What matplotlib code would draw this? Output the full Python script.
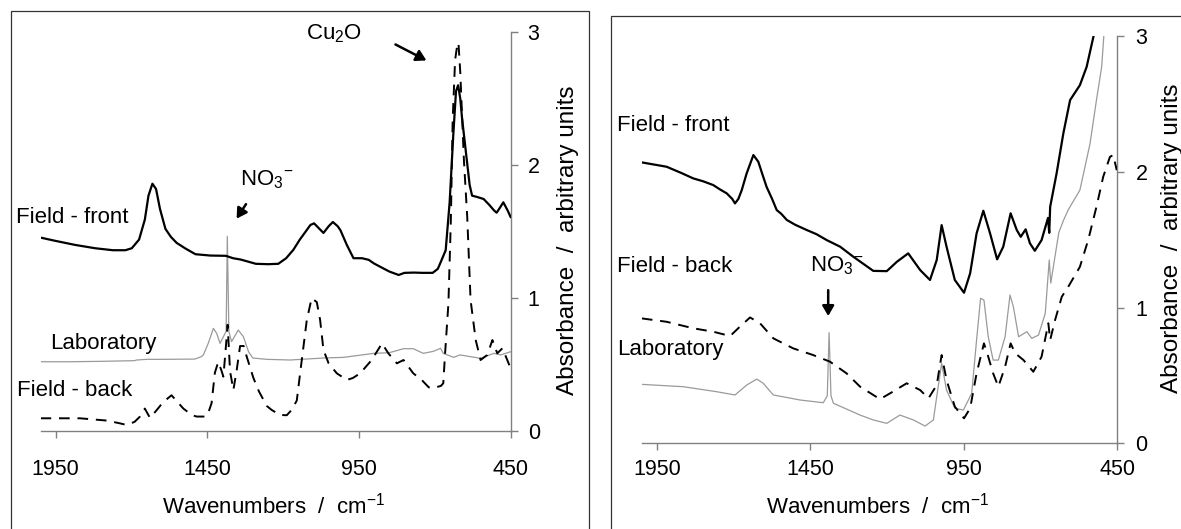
import matplotlib
matplotlib.use("Agg")
import matplotlib.pyplot as plt
from matplotlib.patches import Rectangle, FancyArrowPatch

plt.rcParams['font.family'] = ['Liberation Sans', 'DejaVu Sans']
plt.rcParams['mathtext.fontset'] = 'custom'
plt.rcParams['mathtext.rm'] = 'Liberation Sans'
plt.rcParams['mathtext.it'] = 'Liberation Sans:italic'
plt.rcParams['mathtext.bf'] = 'Liberation Sans:bold'

# ---------------- data: left panel ----------------
left_front_wn = [2000, 1950, 1886, 1820, 1761, 1720, 1699, 1675, 1656, 1644, 1631, 1619, 1606, 1588,
                 1570, 1551, 1520, 1489, 1440, 1389, 1365, 1340, 1290, 1250, 1216, 1190, 1166, 1145,
                 1129, 1110, 1098, 1080, 1067, 1050, 1036, 1020, 1011, 990, 968, 940, 918, 900, 881,
                 850, 819, 800, 769, 740, 707, 690, 682, 664, 651, 639, 630, 623, 616, 610, 595, 585,
                 577, 560, 539, 520, 505, 496, 485, 474, 460, 450]
left_front_val = [1.455, 1.43, 1.40, 1.375, 1.36, 1.36, 1.375, 1.44, 1.59, 1.77, 1.86, 1.82, 1.67, 1.52,
                  1.46, 1.415, 1.37, 1.33, 1.32, 1.318, 1.30, 1.29, 1.258, 1.255, 1.258, 1.30, 1.364, 1.44,
                  1.49, 1.55, 1.562, 1.52, 1.49, 1.54, 1.572, 1.54, 1.51, 1.40, 1.30, 1.30, 1.288, 1.26, 1.237,
                  1.20, 1.174, 1.19, 1.192, 1.19, 1.19, 1.22, 1.262, 1.36, 1.72, 2.225, 2.555, 2.60, 2.50, 2.35,
                  2.05, 1.85, 1.77, 1.76, 1.745, 1.70, 1.66, 1.642, 1.68, 1.72, 1.66, 1.61]

left_back_wn = [2000, 1870, 1782, 1740, 1716, 1690, 1672, 1656, 1639, 1620, 1595, 1568, 1529, 1500, 1485,
                1455, 1445, 1436, 1425, 1414, 1404, 1397, 1390, 1383, 1375, 1364, 1353, 1342, 1330, 1320,
                1298, 1280, 1254, 1238, 1210, 1188, 1172, 1155, 1144, 1122, 1106, 1089, 1078, 1067, 1050,
                1023, 990, 970, 946, 908, 874, 853, 825, 803, 771, 743, 720, 710, 680, 672, 666, 655, 647,
                641, 633, 626, 622, 616, 604, 593, 582, 565, 549, 527, 510, 494, 477, 461, 450]
left_back_val = [0.097, 0.097, 0.08, 0.06, 0.047, 0.07, 0.11, 0.17, 0.10, 0.15, 0.22, 0.27, 0.17, 0.12, 0.11,
                 0.11, 0.15, 0.21, 0.44, 0.52, 0.46, 0.41, 0.60, 0.80, 0.45, 0.31, 0.46, 0.64, 0.64, 0.56,
                 0.40, 0.30, 0.19, 0.16, 0.122, 0.12, 0.16, 0.23, 0.435, 0.835, 1.0, 0.97, 0.835, 0.61, 0.51,
                 0.435, 0.385, 0.40, 0.435, 0.535, 0.66, 0.585, 0.51, 0.535, 0.435, 0.385, 0.33, 0.322, 0.34,
                 0.36, 0.585, 0.961, 1.587, 2.338, 2.79, 2.90, 2.92, 2.70, 2.04, 1.61, 0.986, 0.685, 0.535,
                 0.573, 0.685, 0.585, 0.623, 0.535, 0.473]

left_lab_wn = [2000, 1900, 1800, 1690, 1683, 1650, 1600, 1491, 1470, 1463, 1447, 1430, 1419, 1408, 1397,
               1388, 1384, 1379, 1370, 1348, 1331, 1314, 1300, 1254, 1177, 1067, 1000, 901, 850, 803, 771,
               738, 705, 681, 672, 638, 617, 549, 505, 483, 450]
left_lab_val = [0.522, 0.522, 0.525, 0.53, 0.535, 0.54, 0.54, 0.542, 0.56, 0.573, 0.66, 0.773, 0.735, 0.66,
                0.71, 0.75, 1.465, 0.75, 0.673, 0.76, 0.71, 0.597, 0.55, 0.54, 0.535, 0.55, 0.555, 0.585,
                0.59, 0.62, 0.62, 0.585, 0.60, 0.623, 0.585, 0.555, 0.573, 0.548, 0.585, 0.573, 0.597]

# ---------------- data: right panel ----------------
right_front_wn = [2000, 1919, 1870, 1832, 1800, 1767, 1745, 1723, 1705, 1696, 1685, 1674, 1658, 1636, 1620,
                  1605, 1593, 1575, 1560, 1545, 1527, 1500, 1462, 1430, 1397, 1353, 1310, 1245, 1201, 1168,
                  1131, 1092, 1060, 1038, 1022, 1006, 979, 949, 929, 908, 886, 864, 841, 821, 797, 777, 764,
                  748, 734, 718, 696, 675, 671, 668, 647, 625, 603, 571, 549, 527, 510]
right_front_val = [2.069, 2.037, 1.99, 1.951, 1.93, 1.902, 1.87, 1.841, 1.80, 1.767, 1.80, 1.865, 1.988, 2.123,
                   2.074, 1.97, 1.889, 1.80, 1.718, 1.69, 1.645, 1.61, 1.571, 1.54, 1.497, 1.448, 1.374, 1.27,
                   1.268, 1.337, 1.399, 1.276, 1.203, 1.35, 1.607, 1.448, 1.203, 1.109, 1.252, 1.546, 1.713,
                   1.546, 1.355, 1.448, 1.694, 1.571, 1.521, 1.576, 1.473, 1.418, 1.497, 1.66, 1.55, 1.742,
                   1.988, 2.283, 2.528, 2.638, 2.773, 2.994, 3.2]

right_lab_wn = [2000, 1865, 1756, 1696, 1658, 1625, 1604, 1571, 1484, 1408, 1395, 1389, 1383, 1375, 1288,
                1245, 1201, 1158, 1114, 1076, 1049, 1038, 1022, 1006, 979, 951, 924, 908, 895, 884, 870, 854,
                837, 815, 799, 788, 771, 744, 728, 706, 684, 671, 666, 640, 625, 609, 571, 538, 517, 500, 493, 485]
right_lab_val = [0.434, 0.417, 0.38, 0.356, 0.429, 0.473, 0.442, 0.356, 0.319, 0.299, 0.35, 0.815, 0.35, 0.295,
                 0.208, 0.172, 0.147, 0.208, 0.172, 0.127, 0.172, 0.343, 0.589, 0.392, 0.258, 0.245, 0.368,
                 0.761, 1.068, 1.055, 0.785, 0.613, 0.613, 0.785, 1.092, 1.006, 0.785, 0.822, 0.773, 0.797,
                 0.957, 1.35, 1.18, 1.55, 1.64, 1.72, 1.865, 2.207, 2.528, 2.773, 3.0, 3.2]

right_back_wn = [2000, 1919, 1832, 1767, 1712, 1680, 1647, 1614, 1571, 1506, 1441, 1386, 1332, 1288, 1223,
                 1185, 1136, 1092, 1065, 1038, 1022, 1006, 979, 949, 929, 908, 884, 870, 854, 837, 815, 797,
                 782, 755, 723, 696, 674, 668, 652, 630, 609, 571, 544, 517, 495, 473, 462, 451]
right_back_val = [0.92, 0.895, 0.847, 0.822, 0.79, 0.859, 0.927, 0.883, 0.773, 0.699, 0.65, 0.601, 0.515,
                  0.417, 0.325, 0.375, 0.442, 0.392, 0.331, 0.429, 0.65, 0.466, 0.27, 0.184, 0.258, 0.515,
                  0.736, 0.638, 0.515, 0.417, 0.564, 0.736, 0.663, 0.613, 0.527, 0.638, 0.884, 0.761, 0.908,
                  1.08, 1.153, 1.30, 1.497, 1.742, 1.963, 2.11, 2.123, 2.012]

x_ticks = [1950, 1450, 950, 450]
y_ticks = [0, 1, 2, 3]

W, H = 1181, 529
fig = plt.figure(figsize=(W / 100, H / 100), dpi=100)


def fx(px):
    return px / W


def fy(py):
    return 1 - py / H


# panel frames
fig.patches.append(Rectangle((fx(11), fy(540)), fx(589) - fx(11), fy(11) - fy(540),
                             transform=fig.transFigure, fill=False, ec='#333333', lw=0.9))
fig.patches.append(Rectangle((fx(611), fy(540)), fx(1195) - fx(611), fy(16) - fy(540),
                             transform=fig.transFigure, fill=False, ec='#333333', lw=0.9))

axL = fig.add_axes([fx(40.5), fy(431.2), fx(510.6) - fx(40.5), fy(32) - fy(431.2)])
axR = fig.add_axes([fx(641.8), fy(443.3), fx(1117) - fx(641.8), fy(36) - fy(443.3)])

LAB_C = '#9a9a9a'
TICK = 15.5
for ax, (lw_, lv_), (bw_, bv_), (fw_, fv_), xpad, ypad in [
        (axL, (left_lab_wn, left_lab_val), (left_back_wn, left_back_val), (left_front_wn, left_front_val), 15, 7.5),
        (axR, (right_lab_wn, right_lab_val), (right_back_wn, right_back_val), (right_front_wn, right_front_val), 6.5, 8.5)]:
    ax.plot(lw_, lv_, color=LAB_C, lw=0.9, zorder=2)
    ax.plot(bw_, bv_, color='black', lw=1.4, linestyle=(0, (5.5, 4)), zorder=3)
    ax.plot(fw_, fv_, color='black', lw=1.6, zorder=4)
    ax.set_xlim(2000, 450)
    ax.set_ylim(0, 3)
    ax.set_facecolor('none')
    for s in ['top', 'left']:
        ax.spines[s].set_visible(False)
    for s in ['bottom', 'right']:
        ax.spines[s].set_color('#808080')
        ax.spines[s].set_linewidth(1.0)
    ax.yaxis.tick_right()
    ax.set_xticks(x_ticks)
    ax.set_yticks(y_ticks)
    ax.tick_params(axis='x', direction='out', length=4.8, width=1.0, color='#808080',
                   labelsize=TICK, pad=xpad)
    ax.tick_params(axis='y', direction='out', length=4.8, width=1.0, color='#808080',
                   labelsize=TICK, pad=ypad)

TXT = 16
NO3 = r'NO$_3$$^{-}$'

# left annotations
fig.text(fx(16), fy(217.6), 'Field - front', fontsize=TXT, va='center', ha='left')
fig.text(fx(50), fy(344), 'Laboratory', fontsize=TXT, va='center', ha='left')
fig.text(fx(17), fy(391), 'Field - back', fontsize=TXT, va='center', ha='left')
fig.text(fx(240), fy(180), NO3, fontsize=TXT, va='center', ha='left')
fig.text(fx(306), fy(34), r'Cu$_2$O', fontsize=TXT, va='center', ha='left')
fig.patches.append(FancyArrowPatch((fx(247.5), fy(201.8)), (fx(235.1), fy(221)), transform=fig.transFigure,
                                   arrowstyle='-|>,head_length=6,head_width=3.5', color='black', lw=1.8))
fig.patches.append(FancyArrowPatch((fx(393), fy(43.2)), (fx(428.9), fy(61.7)), transform=fig.transFigure,
                                   arrowstyle='-|>,head_length=6,head_width=3.5', color='black', lw=1.8))
fig.text(fx(273.7), fy(506), r'Wavenumbers  /  cm$^{-1}$', fontsize=TXT, va='center', ha='center')
fig.text(fx(568), fy(240), 'Absorbance  /  arbitrary units', fontsize=17.5, va='center', ha='center',
         rotation=90)

# right annotations
fig.text(fx(617), fy(125.5), 'Field - front', fontsize=TXT, va='center', ha='left')
fig.text(fx(617), fy(266.5), 'Field - back', fontsize=TXT, va='center', ha='left')
fig.text(fx(617), fy(349), 'Laboratory', fontsize=TXT, va='center', ha='left')
fig.text(fx(810), fy(266), NO3, fontsize=TXT, va='center', ha='left')
fig.patches.append(FancyArrowPatch((fx(828.2), fy(287.4)), (fx(828.2), fy(318.8)), transform=fig.transFigure,
                                   arrowstyle='-|>,head_length=6,head_width=3.5', color='black', lw=1.8))
fig.text(fx(878), fy(506), r'Wavenumbers  /  cm$^{-1}$', fontsize=TXT, va='center', ha='center')
fig.text(fx(1172), fy(238), 'Absorbance  /  arbitrary units', fontsize=17.5, va='center', ha='center',
         rotation=90)

fig.savefig('out.png', dpi=100)
